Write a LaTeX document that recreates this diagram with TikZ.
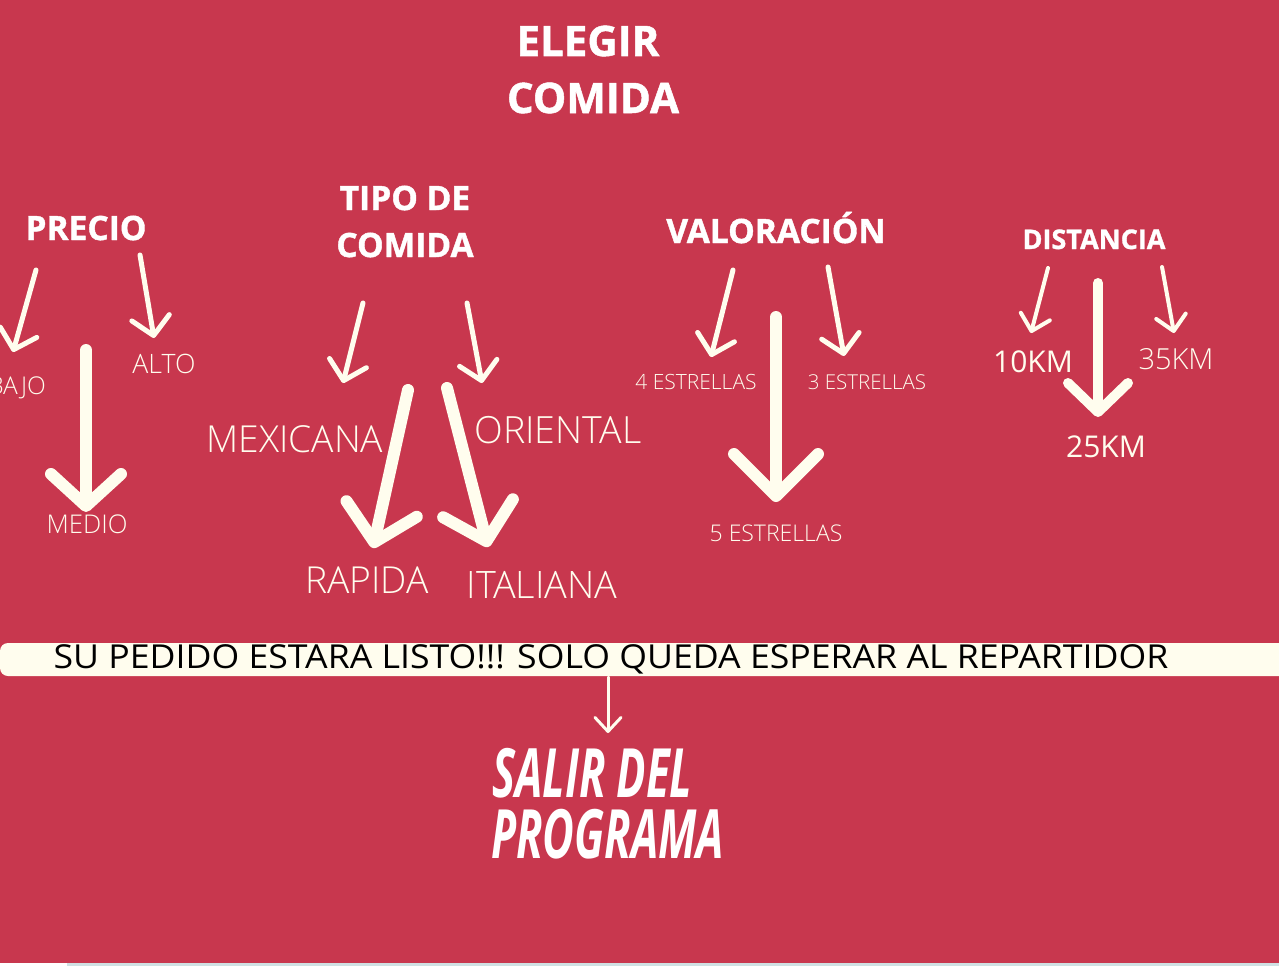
\documentclass[tikz,border=0pt]{standalone}
\usepackage{fontspec}
\setmainfont{Open Sans}
\newfontfamily\heavy{Open Sans}[BoldFeatures={FakeBold=1.2}]
\newfontfamily\oslight{Open Sans Light}
\usetikzlibrary{arrows.meta}
\definecolor{bg}{HTML}{C8374E}
\definecolor{cream}{HTML}{FFFDEE}
\definecolor{strip}{HTML}{CFE0E3}
\tikzset{
  title/.style={text=white, font=\heavy\bfseries\fontsize{#1}{#1}\selectfont, anchor=base, inner sep=0pt},
  lab/.style={text=cream, font=\oslight\fontsize{#1}{#1}\selectfont, anchor=base, inner sep=0pt},
  reglab/.style={text=cream, font=\fontsize{#1}{#1}\selectfont, anchor=base, inner sep=0pt},
  thinarrow/.style={draw=cream, line width=5pt, line cap=round, -{Straight Barb[round,length=18pt,width=38pt]}},
  thickarrow/.style={draw=cream, line width=12pt, line cap=round, -{Straight Barb[round,length=#1]}},
  exitlab/.style={anchor=base west, inner sep=0pt, text=white, font=\heavy\bfseries\itshape\fontsize{68}{60}\selectfont, xscale=0.64, text height=49pt, text depth=0pt},
}
\begin{document}
\begin{tikzpicture}[x=1pt,y=-1pt]
\useasboundingbox (0,0) rectangle (1279,966);
\clip (0,0) rectangle (1279,966);
\fill[bg] (0,0) rectangle (1279,966);
\fill[strip] (0,963) rectangle (1279,966);
\fill[white] (0,963) rectangle (67,966);

% titles
\node[title=42] (elegir) at (588,56) {ELEGIR};
\node[title=42] (comida) at (593,113) {COMIDA};
\node[title=33.5] (precio) at (86,240) {PRECIO};
\node[title=33.5] (tipo1) at (405,210) {TIPO DE};
\node[title=33.5] (tipo2) at (405,257) {COMIDA};
\node[title=33.5] (valor) at (776,243) {VALORACIÓN};
\node[title=27] (dist) at (1094,249) {DISTANCIA};

% option labels
\node[lab=24.5, anchor=base east] (bajo) at (46,394) {BAJO};
\node[lab=26.7] (alto) at (164,373) {ALTO};
\node[lab=25.8] (medio) at (87,533) {MEDIO};
\node[lab=37.2] (mexicana) at (295,452) {MEXICANA};
\node[lab=37.5] (oriental) at (558,443) {ORIENTAL};
\node[lab=37.2] (rapida) at (367,593) {RAPIDA};
\node[lab=37.8] (italiana) at (542,598) {ITALIANA};
\node[lab=21] (e4) at (696,389) {4 ESTRELLAS};
\node[lab=20.5] (e3) at (867,389) {3 ESTRELLAS};
\node[lab=23] (e5) at (776,541) {5 ESTRELLAS};
\node[reglab=30] (km10) at (1033,372) {10KM};
\node[lab=29] (km35) at (1176,369) {35KM};
\node[reglab=30] (km25) at (1106,457) {25KM};

% arrow end points
\coordinate (p1s) at (36,270);   \coordinate (p1t) at (13,352);
\coordinate (p2s) at (140,255);  \coordinate (p2t) at (154,338);
\coordinate (p3s) at (86,350);   \coordinate (p3t) at (86,512);
\coordinate (t1s) at (363,303);  \coordinate (t1t) at (343,383);
\coordinate (t2s) at (467,303);  \coordinate (t2t) at (482,383);
\coordinate (t3s) at (408,390);  \coordinate (t3t) at (373,548);
\coordinate (t4s) at (447,388);  \coordinate (t4t) at (488,547);
\coordinate (v1s) at (733,270);  \coordinate (v1t) at (711,357);
\coordinate (v2s) at (828,267);  \coordinate (v2t) at (844,356);
\coordinate (v3s) at (776,317);  \coordinate (v3t) at (776,502);
\coordinate (d1s) at (1048,268); \coordinate (d1t) at (1031,333);
\coordinate (d2s) at (1162,267); \coordinate (d2t) at (1174,333);
\coordinate (d3s) at (1098,283); \coordinate (d3t) at (1098,417);

\draw[thinarrow] (p1s) -- (p1t);
\draw[thinarrow] (p2s) -- (p2t);
\draw[thickarrow={32pt,width=70pt}] (p3s) -- (p3t);
\draw[thinarrow] (t1s) -- (t1t);
\draw[thinarrow] (t2s) -- (t2t);
\draw[thickarrow={34pt,width=72pt}] (t3s) -- (t3t);
\draw[thickarrow={34pt,width=72pt}] (t4s) -- (t4t);
\draw[thinarrow] (v1s) -- (v1t);
\draw[thinarrow] (v2s) -- (v2t);
\draw[thickarrow={42pt,width=84pt}] (v3s) -- (v3t);
\draw[thinarrow, line width=4pt, -{Straight Barb[round,length=15pt,width=30pt]}] (d1s) -- (d1t);
\draw[thinarrow, line width=4pt, -{Straight Barb[round,length=15pt,width=30pt]}] (d2s) -- (d2t);
\draw[thickarrow={29pt,width=60pt}, line width=10pt] (d3s) -- (d3t);

% band
\fill[cream, rounded corners=8pt] (0,643) rectangle (1300,676);
\node[anchor=base, inner sep=0pt, text=black, font=\fontsize{33}{33}\selectfont, xscale=1.08] (band) at (611,668) {SU PEDIDO ESTARA LISTO!!! SOLO QUEDA ESPERAR AL REPARTIDOR};
\coordinate (bs) at (608,677);
\coordinate (bt) at (608,733);
\draw[draw=cream, line width=3pt, line cap=round, -{Straight Barb[round,length=14pt,width=26pt]}] (bs) -- (bt);

% exit
\node[exitlab] (salir1) at (492,797) {SALIR DEL};
\node[exitlab] (salir2) at (491,858) {PROGRAMA};
\end{tikzpicture}
\end{document}
